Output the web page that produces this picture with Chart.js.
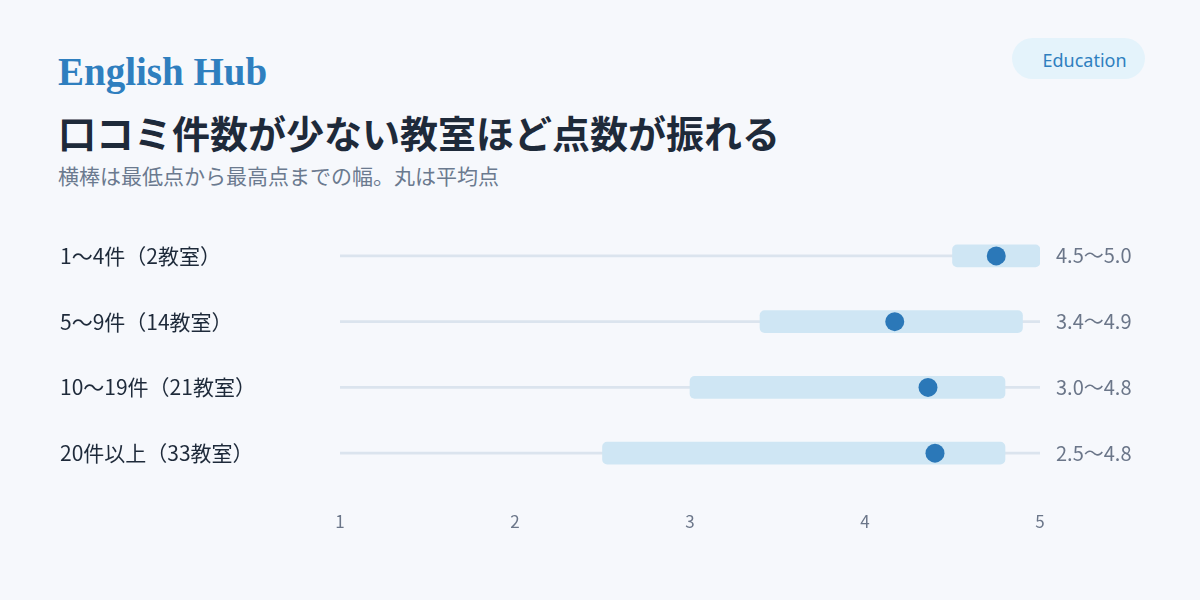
<!DOCTYPE html>
<html lang="ja">
<head>
<meta charset="utf-8">
<title>English Hub — 口コミ件数と点数の幅</title>
<script src="https://cdn.jsdelivr.net/npm/chart.js@4/dist/chart.umd.min.js"></script>
<style>
  html, body { margin: 0; padding: 0; }
  body {
    width: 1200px; height: 600px; overflow: hidden;
    background: #f6f8fc; position: relative;
    font-family: 'Noto Sans CJK JP', 'Noto Sans', sans-serif;
  }
  .brand {
    position: absolute; left: 58px; top: 52px;
    font: 700 39px/39px 'Liberation Serif', 'DejaVu Serif', serif;
    color: #2f7fbf;
  }
  .badge {
    position: absolute; left: 1012px; top: 38px;
    width: 133px; height: 41px; border-radius: 21px;
    background: #e4f3fb; color: #2f7fbf;
    font: 400 18px/44px 'Noto Sans', sans-serif;
    text-align: center; box-sizing: border-box; padding-left: 12px;
  }
  .title {
    position: absolute; left: 58px; top: 113px;
    font: 700 38px/38px 'Noto Sans CJK JP', sans-serif;
    color: #1e2a3a; margin: 0;
  }
  .subtitle {
    position: absolute; left: 58px; top: 165px;
    font: 400 21px/21px 'Noto Sans CJK JP', sans-serif;
    color: #6b7a8f; margin: 0;
  }
  .chart-box {
    position: absolute; left: 60px; top: 195px;
    width: 1080px; height: 351px;
  }
</style>
</head>
<body>
  <div class="brand">English Hub</div>
  <div class="badge">Education</div>
  <h1 class="title">口コミ件数が少ない教室ほど点数が振れる</h1>
  <p class="subtitle">横棒は最低点から最高点までの幅。丸は平均点</p>
  <div class="chart-box"><canvas id="chart"></canvas></div>

<script>
/* ── データ ── */
const groups = ['1〜4件（2教室）', '5〜9件（14教室）', '10〜19件（21教室）', '20件以上（33教室）'];
const minScores  = [4.5, 3.4, 3.0, 2.5];
const maxScores  = [5.0, 4.9, 4.8, 4.8];
const meanScores = [4.75, 4.17, 4.36, 4.40];
const rangeLabels = ['4.5〜5.0', '3.4〜4.9', '3.0〜4.8', '2.5〜4.8'];
const xTicks = [1, 2, 3, 4, 5];

/* ── 色 ── */
const trackColor = '#dbe4ee';
const rangeColor = '#cfe6f4';
const dotColor   = '#2b78b8';
const labelColor = '#1e2a3a';
const mutedColor = '#6b7689';

const ctx = document.getElementById('chart').getContext('2d');

new Chart(ctx, {
  type: 'bar',
  data: {
    labels: groups,
    datasets: [
      {
        // 平均点の丸
        type: 'line',
        label: '平均点',
        data: groups.map((g, i) => ({ x: meanScores[i], y: g })),
        showLine: false,
        pointRadius: 9.5,
        pointHoverRadius: 9.5,
        pointBackgroundColor: dotColor,
        pointBorderWidth: 0,
        order: 0
      },
      {
        // 最低点〜最高点
        label: '範囲',
        data: groups.map((g, i) => [minScores[i], maxScores[i]]),
        backgroundColor: rangeColor,
        barThickness: 22,
        borderRadius: 5,
        borderSkipped: false,
        grouped: false,
        order: 1
      },
      {
        // 背景の細い軸線
        label: 'track',
        data: groups.map(() => [xTicks[0], xTicks[xTicks.length - 1]]),
        backgroundColor: trackColor,
        barThickness: 2,
        grouped: false,
        order: 2
      }
    ]
  },
  options: {
    indexAxis: 'y',
    responsive: true,
    maintainAspectRatio: false,
    animation: false,
    layout: { padding: 0 },
    plugins: {
      legend: { display: false },
      tooltip: { enabled: false }
    },
    scales: {
      x: {
        type: 'linear',
        min: xTicks[0],
        max: xTicks[xTicks.length - 1],
        grid: { display: false, drawTicks: false },
        border: { display: false },
        afterBuildTicks: scale => { scale.ticks = xTicks.map(v => ({ value: v })); },
        afterFit: scale => { scale.height = 60; },
        ticks: {
          color: mutedColor,
          padding: 25,
          font: { family: "'Noto Sans CJK JP', sans-serif", size: 17 }
        }
      },
      y: {
        type: 'category',
        labels: groups,
        offset: true,
        grid: { display: false, drawTicks: false },
        border: { display: false },
        afterFit: scale => { scale.width = 280; },
        ticks: {
          crossAlign: 'far',
          color: labelColor,
          font: { family: "'Noto Sans CJK JP', sans-serif", size: 21 }
        }
      },
      y2: {
        type: 'category',
        position: 'right',
        labels: rangeLabels,
        offset: true,
        grid: { display: false, drawTicks: false },
        border: { display: false },
        afterFit: scale => { scale.width = 100; },
        ticks: {
          crossAlign: 'near',
          padding: 16,
          color: mutedColor,
          font: { family: "'Noto Sans CJK JP', sans-serif", size: 20 }
        }
      }
    }
  }
});
</script>
</body>
</html>
